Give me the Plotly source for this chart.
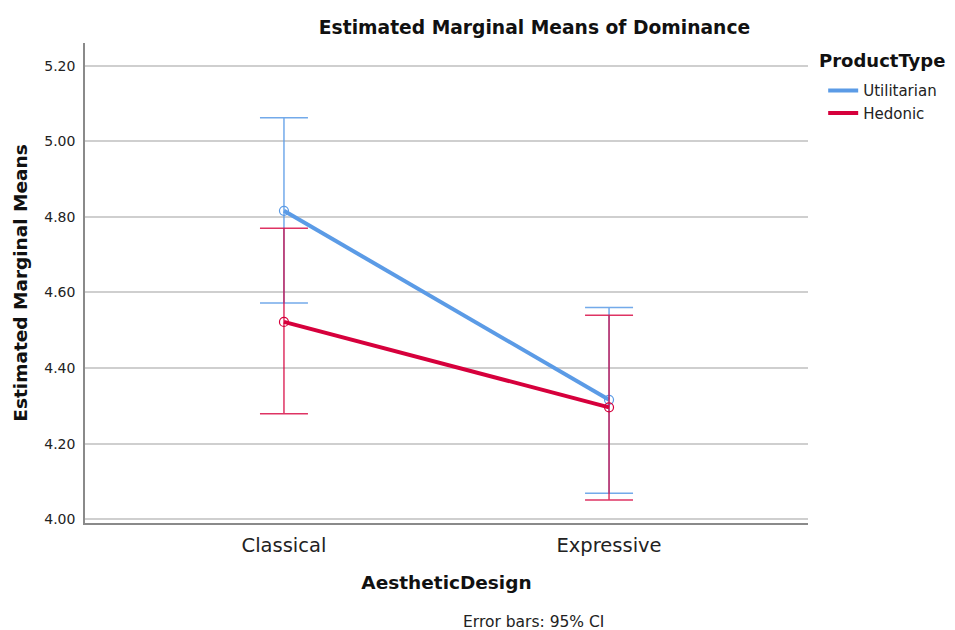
import plotly.graph_objects as go

categories = ["Classical", "Expressive"]
series_names = ["Utilitarian", "Hedonic"]
utilitarian_mean = [4.816, 4.316]
utilitarian_upper = [5.062, 4.560]
utilitarian_lower = [4.572, 4.069]
hedonic_mean = [4.522, 4.296]
hedonic_upper = [4.770, 4.540]
hedonic_lower = [4.279, 4.051]
y_ticks = [4.00, 4.20, 4.40, 4.60, 4.80, 5.00, 5.20]

colors = ["#5b9be6", "#d6003c"]
err_colors = ["rgba(91,155,230,0.85)", "rgba(214,0,60,0.8)"]
FONT = "DejaVu Sans"

fig = go.Figure()
for name, mean, up, lo, col, ecol in [
    (series_names[0], utilitarian_mean, utilitarian_upper, utilitarian_lower, colors[0], err_colors[0]),
    (series_names[1], hedonic_mean, hedonic_upper, hedonic_lower, colors[1], err_colors[1]),
]:
    fig.add_trace(go.Scatter(
        x=categories, y=mean, name=name, mode="lines+markers", showlegend=False,
        line=dict(color=col, width=4),
        marker=dict(symbol="circle-open", size=9, color=col, line=dict(width=1.2)),
        error_y=dict(type="data", symmetric=False,
                     array=[u - m for u, m in zip(up, mean)],
                     arrayminus=[m - l for m, l in zip(mean, lo)],
                     color=ecol, thickness=1.5, width=24),
    ))
# legend entries (lines only, as in the reference)
for name, col in zip(series_names, colors):
    fig.add_trace(go.Scatter(x=[None], y=[None], name=name, mode="lines",
                             line=dict(color=col, width=4), showlegend=True))

# page body has an 8px margin, so the figure is sized 947x622
fig.update_layout(
    width=947, height=622,
    paper_bgcolor="white", plot_bgcolor="white",
    margin=dict(l=77, r=147, t=35, b=107, autoexpand=False),
    font=dict(family=FONT, color="#222"),
    title=dict(text="<b>Estimated Marginal Means of Dominance</b>", x=0.556, xanchor="center",
               y=0.969, yanchor="middle", font=dict(size=18.7, color="#111")),
    legend=dict(x=1.021, y=0.935, xanchor="left", yanchor="top",
                font=dict(size=15, color="#222"), tracegroupgap=0, itemwidth=30),
    showlegend=True,
)
fig.update_xaxes(
    type="category", range=[-0.612, 1.612],
    showgrid=False, showline=True, linecolor="#8a8a8a", linewidth=1.5,
    ticks="", tickfont=dict(size=19.5, color="#222"), ticklabelstandoff=4,
    title=dict(text="<b>AestheticDesign</b>", font=dict(size=18.5, color="#111"), standoff=20),
    zeroline=False, automargin=False,
)
fig.update_yaxes(
    range=[3.99, 5.26], tickvals=y_ticks, tickformat=".2f",
    showgrid=True, gridcolor="#cfcfcf", gridwidth=1.5,
    showline=True, linecolor="#8a8a8a", linewidth=1.5,
    ticks="", ticklabelstandoff=5,
    tickfont=dict(size=14, color="#222"),
    title=dict(text="<b>Estimated Marginal Means</b>", font=dict(size=18.5, color="#111"), standoff=12),
    zeroline=False, automargin=False,
)
fig.add_annotation(text="<b>ProductType</b>", xref="paper", yref="paper",
                   x=1.0125, y=1.0 - (53 - 35) / 480, xanchor="left", yanchor="middle",
                   showarrow=False, font=dict(size=18, color="#111"))
fig.add_annotation(text="Error bars: 95% CI", xref="paper", yref="paper",
                   x=0.62, y=-0.207, xanchor="center", yanchor="middle",
                   showarrow=False, font=dict(size=15.5, color="#222"))

fig.write_html("out.html")
